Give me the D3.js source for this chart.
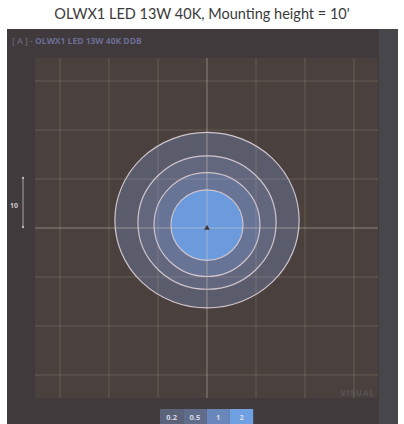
<!DOCTYPE html>
<html>
<head>
<meta charset="utf-8">
<script src="https://cdn.jsdelivr.net/npm/d3@7"></script>
<style>
  body { margin: 0; background: #fff; }
  svg { display: block; }
</style>
</head>
<body>
<div id="chart"></div>
<script>
// Width and height of the page
const width = 404;
const height = 424;

// isolux levels (fc) and contour sizes, in feet
const levels = [0.2, 0.5, 1, 2];
const contourRx = [18.8, 14.1, 10.8, 7.35];
const contourRy = [17.9, 13.6, 10.6, 7.2];
const contourDy = [1.6, 1.1, 0.7, 0.6];   // centre shift from the fixture
const levelColors = ["#5a5c6c", "#62677d", "#687496", "#6b9bdc"];
const legendColors = ["#5a6379", "#5f6d8b", "#6987bb", "#6fa0e2"];

const gridTicks = [-30, -20, -10, 0, 10, 20, 30];
const scaleBarFeet = 10;

const title = "OLWX1 LED 13W 40K, Mounting height = 10'";

const svg = d3.select("#chart")
    .append("svg")
    .attr("width", width)
    .attr("height", height);

// scales in feet, plot centred on the fixture
const plot = { left: 35, right: 378, top: 58, bottom: 398 };
const cx = 207, cy = 228, pxPerFoot = 4.9;
const x = d3.scaleLinear().domain([-35, 35]).range([cx - 35 * pxPerFoot, cx + 35 * pxPerFoot]);
const y = d3.scaleLinear().domain([-35, 35]).range([cy + 35 * pxPerFoot, cy - 35 * pxPerFoot]);

// title
svg.append("text")
    .attr("x", 202)
    .attr("y", 19)
    .attr("text-anchor", "middle")
    .attr("font-family", "Lato, 'Open Sans', sans-serif")
    .attr("font-size", 14.5)
    .attr("fill", "#3a3a3a")
    .text(title);

// outer dark panel
svg.append("rect")
    .attr("x", 7).attr("y", 29)
    .attr("width", 391).attr("height", height - 29)
    .attr("fill", "#403a3c");
svg.append("rect")
    .attr("x", 379).attr("y", 29)
    .attr("width", 19).attr("height", height - 29)
    .attr("fill", "#47464a");

// panel label
const lab = svg.append("text")
    .attr("x", 12)
    .attr("y", 44)
    .attr("font-family", "'Open Sans', sans-serif")
    .attr("font-size", 8.5)
    .attr("font-weight", "bold");
lab.append("tspan").attr("fill", "#635e6c").text("[ A ] - ");
lab.append("tspan").attr("fill", "#6c6e96").text("OLWX1 LED 13W 40K DDB");

// plot area
svg.append("rect")
    .attr("x", plot.left).attr("y", plot.top)
    .attr("width", plot.right - plot.left).attr("height", plot.bottom - plot.top)
    .attr("fill", "#4a413e");

// contour fills, biggest first
const g = svg.append("g");
levels.forEach((lv, i) => {
    g.append("ellipse")
        .attr("cx", x(0))
        .attr("cy", y(contourDy[i]))
        .attr("rx", x(contourRx[i]) - x(0))
        .attr("ry", y(0) - y(contourRy[i]))
        .attr("fill", levelColors[i]);
});

// grid
const grid = svg.append("g");
gridTicks.forEach(t => {
    const major = t === 0;
    const col = major ? "rgba(235,220,200,0.42)" : "rgba(220,200,175,0.2)";
    grid.append("line")
        .attr("x1", x(t)).attr("x2", x(t))
        .attr("y1", plot.top).attr("y2", plot.bottom)
        .attr("stroke", col)
        .attr("stroke-width", 1);
    grid.append("line")
        .attr("x1", plot.left).attr("x2", plot.right)
        .attr("y1", y(t)).attr("y2", y(t))
        .attr("stroke", col)
        .attr("stroke-width", 1);
});

// contour lines
levels.forEach((lv, i) => {
    g.append("ellipse")
        .attr("cx", x(0))
        .attr("cy", y(contourDy[i]))
        .attr("rx", x(contourRx[i]) - x(0))
        .attr("ry", y(0) - y(contourRy[i]))
        .attr("fill", "none")
        .attr("stroke", "#cfc3cc")
        .attr("stroke-width", 1.2);
});
svg.node().appendChild(g.node());
svg.node().appendChild(grid.node());

// fixture marker
svg.append("path")
    .attr("d", d3.symbol(d3.symbolTriangle, 14)())
    .attr("transform", `translate(${x(0)},${y(0)})`)
    .attr("fill", "#3e3838");

// scale bar
const sb = svg.append("g");
sb.append("line")
    .attr("x1", 23).attr("x2", 23)
    .attr("y1", y(0) - 1).attr("y2", y(0) - 1 - scaleBarFeet * pxPerFoot)
    .attr("stroke", "#aaa3a6").attr("stroke-width", 1);
[y(0) - 1, y(0) - 1 - scaleBarFeet * pxPerFoot].forEach(v => {
    sb.append("circle").attr("cx", 23).attr("cy", v).attr("r", 1.2).attr("fill", "#bdb5b8");
});
sb.append("text")
    .attr("x", 14).attr("y", 208)
    .attr("text-anchor", "middle")
    .attr("font-family", "'Open Sans', sans-serif")
    .attr("font-size", 7)
    .attr("font-weight", "bold")
    .attr("fill", "#cfc8cb")
    .text(scaleBarFeet);

// watermark
svg.append("text")
    .attr("x", 375).attr("y", 396)
    .attr("text-anchor", "end")
    .attr("font-family", "'Open Sans', sans-serif")
    .attr("font-size", 8)
    .attr("font-weight", "bold")
    .attr("letter-spacing", 1)
    .attr("fill", "rgba(110,125,130,0.35)")
    .text("VISUAL");

// legend
const legX = 160, legW = 23.3, legY = 409;
levels.forEach((lv, i) => {
    svg.append("rect")
        .attr("x", legX + i * legW).attr("y", legY)
        .attr("width", legW).attr("height", height - legY)
        .attr("fill", legendColors[i]);
    svg.append("text")
        .attr("x", legX + i * legW + legW / 2).attr("y", legY + 10.5)
        .attr("text-anchor", "middle")
        .attr("font-family", "'Open Sans', sans-serif")
        .attr("font-size", 7.5)
        .attr("font-weight", "bold")
        .attr("fill", "#d8d9e4")
        .text(lv);
});
</script>
</body>
</html>
